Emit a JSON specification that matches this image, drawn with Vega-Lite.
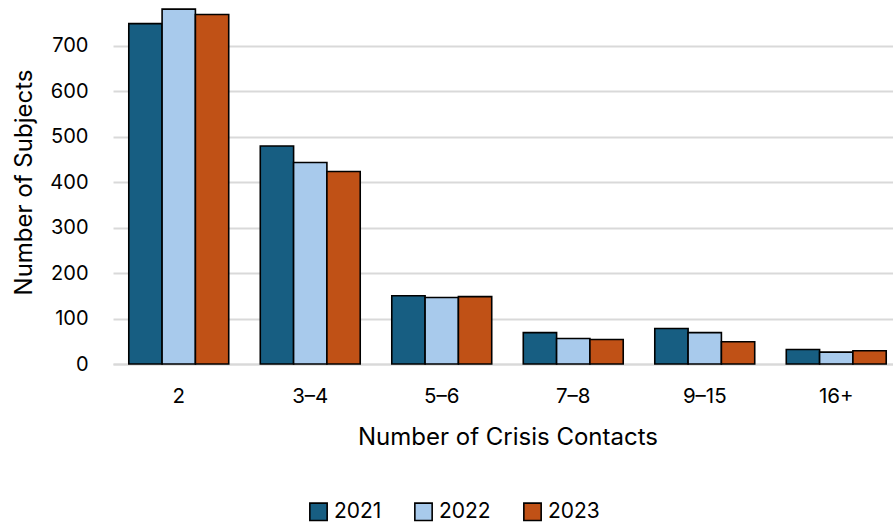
{
  "$schema": "https://vega.github.io/schema/vega-lite/v6.json",
  "autosize": "none",
  "padding": {"left": 113, "top": 0, "right": 0, "bottom": 163},
  "width": 789,
  "height": 364,
  "background": "white",
  "config": {
    "view": {"stroke": null},
    "font": "Inter",
    "axis": {"labelColor": "#000000", "titleColor": "#000000", "labelFont": "Inter", "titleFont": "Inter", "titleFontWeight": "normal"},
    "legend": {"labelFont": "Inter", "labelColor": "#000000"}
  },
  "data": {
    "values": [
      {"contacts": "2", "year": "2021", "subjects": 748},
      {"contacts": "2", "year": "2022", "subjects": 780},
      {"contacts": "2", "year": "2023", "subjects": 768},
      {"contacts": "3–4", "year": "2021", "subjects": 479},
      {"contacts": "3–4", "year": "2022", "subjects": 443},
      {"contacts": "3–4", "year": "2023", "subjects": 423},
      {"contacts": "5–6", "year": "2021", "subjects": 150},
      {"contacts": "5–6", "year": "2022", "subjects": 146},
      {"contacts": "5–6", "year": "2023", "subjects": 148},
      {"contacts": "7–8", "year": "2021", "subjects": 69},
      {"contacts": "7–8", "year": "2022", "subjects": 56},
      {"contacts": "7–8", "year": "2023", "subjects": 54},
      {"contacts": "9–15", "year": "2021", "subjects": 78},
      {"contacts": "9–15", "year": "2022", "subjects": 69},
      {"contacts": "9–15", "year": "2023", "subjects": 49},
      {"contacts": "16+", "year": "2021", "subjects": 32},
      {"contacts": "16+", "year": "2022", "subjects": 26},
      {"contacts": "16+", "year": "2023", "subjects": 29}
    ]
  },
  "mark": {"type": "bar", "stroke": "#000000", "strokeWidth": 1.6},
  "encoding": {
    "x": {
      "field": "contacts",
      "type": "nominal",
      "sort": ["2", "3–4", "5–6", "7–8", "9–15", "16+"],
      "scale": {"paddingInner": 0.24, "paddingOuter": 0.12},
      "axis": {
        "title": "Number of Crisis Contacts",
        "labelAngle": 0,
        "labelFontSize": 20.5,
        "labelPadding": 22,
        "titleFontSize": 24,
        "titlePadding": 19,
        "ticks": false,
        "domain": true,
        "domainColor": "#d9d9d9",
        "domainWidth": 2
      }
    },
    "xOffset": {"field": "year", "type": "nominal", "sort": ["2021", "2022", "2023"]},
    "y": {
      "field": "subjects",
      "type": "quantitative",
      "scale": {"domain": [0, 800], "nice": false},
      "axis": {
        "title": "Number of Subjects",
        "values": [0, 100, 200, 300, 400, 500, 600, 700],
        "labelFontSize": 20,
        "labelPadding": 25,
        "titleFontSize": 24,
        "titlePadding": 13,
        "ticks": false,
        "domain": false,
        "grid": true,
        "gridColor": "#d9d9d9",
        "gridWidth": 2
      }
    },
    "color": {
      "field": "year",
      "type": "nominal",
      "scale": {"domain": ["2021", "2022", "2023"], "range": ["#175e82", "#a8caec", "#c05116"]},
      "legend": {
        "title": null,
        "orient": "none",
        "direction": "horizontal",
        "legendX": 195,
        "legendY": 501,
        "symbolType": "square",
        "symbolSize": 300,
        "symbolStrokeColor": "#000000",
        "symbolStrokeWidth": 1.6,
        "labelFontSize": 21,
        "labelOffset": 5,
        "columnPadding": 29
      }
    }
  }
}
